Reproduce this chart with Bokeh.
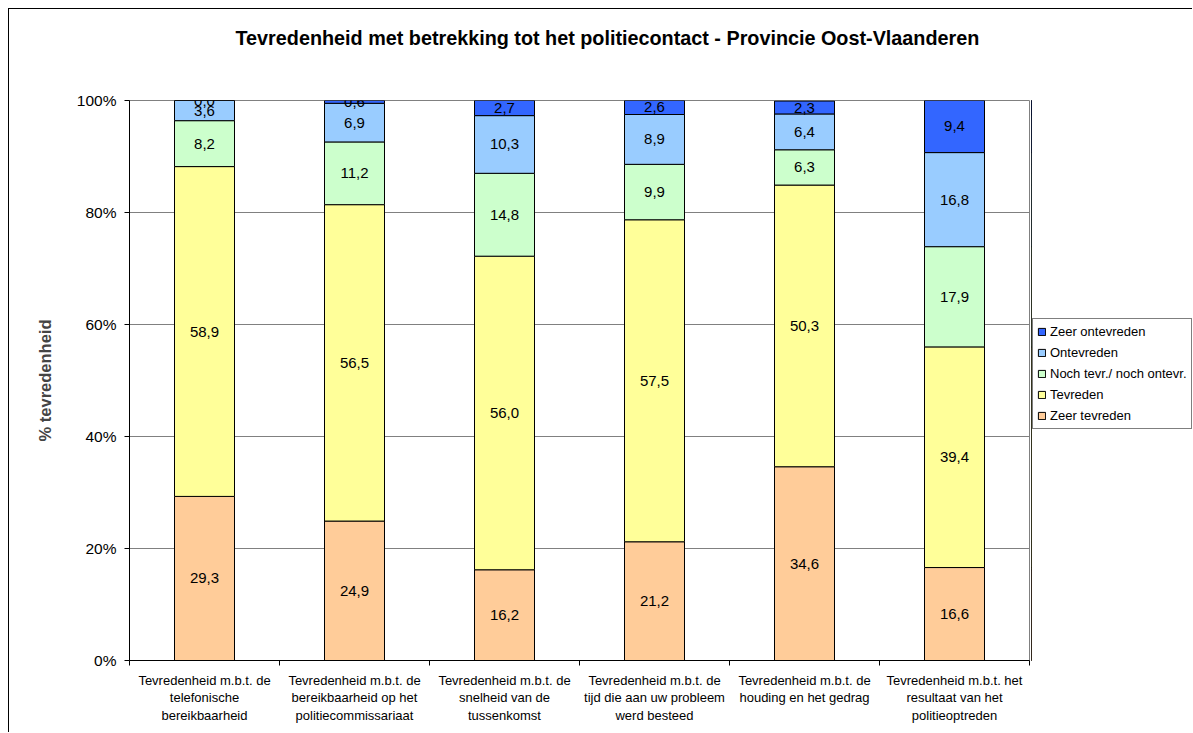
from bokeh.plotting import figure
from bokeh.layouts import row
from bokeh.models import (ColumnDataSource, Range1d, FixedTicker, Legend, LegendItem, Title)
from bokeh.core.properties import value
from bokeh.embed import file_html
from bokeh.resources import INLINE

categories = [
    "Tevredenheid m.b.t. de\ntelefonische\nbereikbaarheid",
    "Tevredenheid m.b.t. de\nbereikbaarheid op het\npolitiecommissariaat",
    "Tevredenheid m.b.t. de\nsnelheid van de\ntussenkomst",
    "Tevredenheid m.b.t. de\ntijd die aan uw probleem\nwerd besteed",
    "Tevredenheid m.b.t. de\nhouding en het gedrag",
    "Tevredenheid m.b.t. het\nresultaat van het\npolitieoptreden",
]
series_names = ["Zeer tevreden", "Tevreden", "Noch tevr./ noch ontevr.", "Ontevreden", "Zeer ontevreden"]
zeer_tevreden = [29.3, 24.9, 16.2, 21.2, 34.6, 16.6]
tevreden = [58.9, 56.5, 56.0, 57.5, 50.3, 39.4]
noch = [8.2, 11.2, 14.8, 9.9, 6.3, 17.9]
ontevreden = [3.6, 6.9, 10.3, 8.9, 6.4, 16.8]
zeer_ontevreden = [0.0, 0.6, 2.7, 2.6, 2.3, 9.4]
y_ticks = [0, 20, 40, 60, 80, 100]
y_tick_labels = ["0%", "20%", "40%", "60%", "80%", "100%"]
colors = ["#FFCC99", "#FFFF99", "#CCFFCC", "#99CCFF", "#3366FF"]
title_text = "Tevredenheid met betrekking tot het politiecontact - Provincie Oost-Vlaanderen"

FONT = "Liberation Sans"
series = [zeer_tevreden, tevreden, noch, ontevreden, zeer_ontevreden]
keys = ["s0", "s1", "s2", "s3", "s4"]
xpos = [i + 0.5 for i in range(len(categories))]

data = {"x": xpos}
for k, s in zip(keys, series):
    data[k] = s
src = ColumnDataSource(data)

p = figure(width=1022, height=723, output_backend="svg", toolbar_location=None,
           x_range=Range1d(0, len(categories)), y_range=Range1d(0, 100),
           min_border_left=120, min_border_right=2, min_border_top=91, min_border_bottom=72)
p.outline_line_color = "#808080"
p.outline_line_width = 1

renderers = p.vbar_stack(keys, x="x", width=0.4, source=src, fill_color=colors,
                         line_color="black", line_width=1)

# value labels
lx, ly, lt = [], [], []
for i in range(len(categories)):
    base = 0.0
    for s in series:
        v = s[i]
        lx.append(xpos[i])
        ly.append(base + v / 2)
        lt.append(f"{v:.1f}".replace(".", ","))
        base += v
p.text(x=lx, y=ly, text=lt, text_align="center", text_baseline="middle",
       text_font=value(FONT), text_font_size="15px", text_color="black")

# axes
p.xgrid.visible = False
p.ygrid.grid_line_color = "#808080"
p.ygrid.ticker = FixedTicker(ticks=y_ticks)

ya = p.yaxis[0]
ya.ticker = FixedTicker(ticks=y_ticks)
ya.major_label_overrides = {t: l for t, l in zip(y_ticks, y_tick_labels)}
ya.major_label_text_font = FONT
ya.major_label_text_font_size = "15.5px"
ya.major_label_text_color = "black"
ya.major_tick_out = 5
ya.major_tick_in = 0
ya.minor_tick_line_color = None
ya.axis_line_color = "black"
ya.major_label_standoff = 8
ya.axis_label = "% tevredenheid"
ya.axis_label_text_font = FONT
ya.axis_label_text_font_style = "bold"
ya.axis_label_text_font_size = "16.5px"
ya.axis_label_standoff = 20

xa = p.xaxis[0]
xa.ticker = FixedTicker(ticks=xpos, minor_ticks=list(range(len(categories) + 1)))
xa.major_label_overrides = {x: c for x, c in zip(xpos, categories)}
xa.major_label_text_font = FONT
xa.major_label_text_font_size = "13px"
xa.major_label_text_line_height = 1.17
xa.major_label_text_color = "black"
xa.major_tick_in = 0
xa.major_tick_out = 0
xa.minor_tick_in = 0
xa.minor_tick_out = 5
xa.minor_tick_line_color = "black"
xa.axis_line_color = "black"
xa.major_label_standoff = 7

# title (second, empty line keeps the title high above the plot area)
p.title = Title(text=title_text + "\n", align="left", offset=106, vertical_align="top", standoff=28,
                text_font=FONT, text_font_style="bold", text_font_size="19.8px",
                text_line_height=1.65, text_color="black")

# legend panel (separate figure to the right of the plot area; its bars lie outside its view)
pl = figure(width=161, height=723, output_backend="svg", toolbar_location=None,
            x_axis_location=None, y_axis_location=None,
            x_range=Range1d(100, 101), y_range=Range1d(0, 100),
            min_border_left=0, min_border_right=0, min_border_top=91, min_border_bottom=72)
pl.outline_line_color = None
pl.grid.visible = False
leg_renderers = pl.vbar_stack(keys, x="x", width=0.4, source=src, fill_color=colors,
                              line_color="black", line_width=1)
items = [LegendItem(label=n, renderers=[r]) for n, r in zip(series_names, leg_renderers)][::-1]
legend = Legend(items=items, location=(1, 231), orientation="vertical",
                label_text_font=FONT, label_text_font_size="13px", label_text_color="black",
                glyph_width=9, glyph_height=9, label_height=17, label_standoff=4,
                spacing=4, padding=4, margin=0, border_line_color="black",
                border_line_width=1, background_fill_color="white", background_fill_alpha=1)
pl.add_layout(legend)

layout = row(p, pl, spacing=0)
layout.styles = {"margin-left": "8px", "margin-top": "8px",
                 "border-left": "1px solid black", "border-top": "1px solid black"}

open("out.html", "w").write(file_html(layout, INLINE))
